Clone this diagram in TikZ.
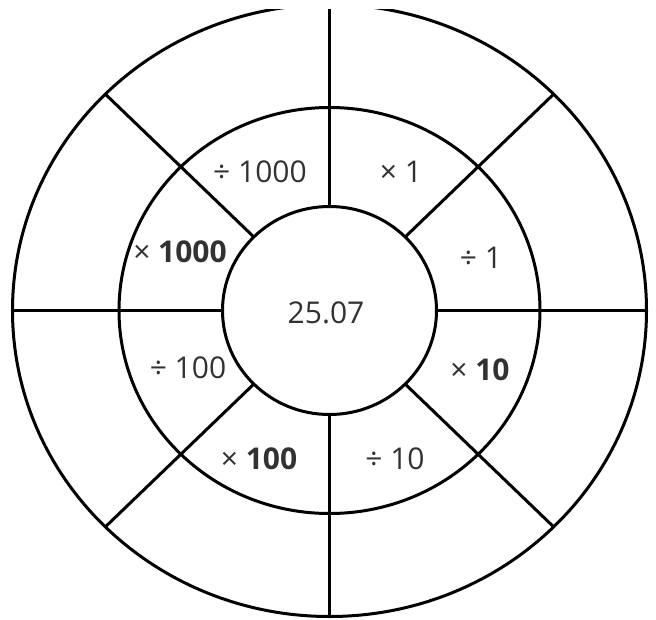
\documentclass[tikz,border=0pt]{standalone}
\usepackage{fontspec}
\setmainfont{Open Sans}
\usetikzlibrary{calc}
\definecolor{wheeltext}{RGB}{50,50,50}
\tikzset{
  ring/.style={black, line width=3pt},
  oplabel/.style={font=\fontsize{30}{35}\selectfont, text=wheeltext, inner sep=0pt},
}

\begin{document}
\begin{tikzpicture}[x=1pt, y=-1pt]
\useasboundingbox (0,0) rectangle (656,619);

\begin{scope}
\clip (0,9.5) rectangle (656,619);
\begin{scope}[shift={(329.5,310.5)}]
% Rings
\draw[ring] (0,0) ellipse [x radius=317, y radius=306];
\draw[ring] (0,0) ellipse [x radius=210.5, y radius=203];
\draw[ring, fill=white] (0,0) ellipse [x radius=107, y radius=104];

% Spokes
\foreach \a in {0,45,...,315}
  \draw[ring] (\a:107 and 104) -- (\a:317 and 306);
\end{scope}
\end{scope}

% Centre value
\node[oplabel] (start) at (326,313) {25.07};

% Inner ring labels
\node[oplabel] (div1000) at (260,172) {÷ 1000};
\node[oplabel] (mul1) at (401,172) {× 1};
\node[oplabel] (mul1000) at (180,252) {× \textbf{1000}};
\node[oplabel] (div1) at (481,258) {÷ 1};
\node[oplabel] (div100) at (188,368) {÷ 100};
\node[oplabel] (mul10) at (480,370) {× \textbf{10}};
\node[oplabel] (mul100) at (259,459) {× \textbf{100}};
\node[oplabel] (div10) at (395,459) {÷ 10};

\end{tikzpicture}
\end{document}
